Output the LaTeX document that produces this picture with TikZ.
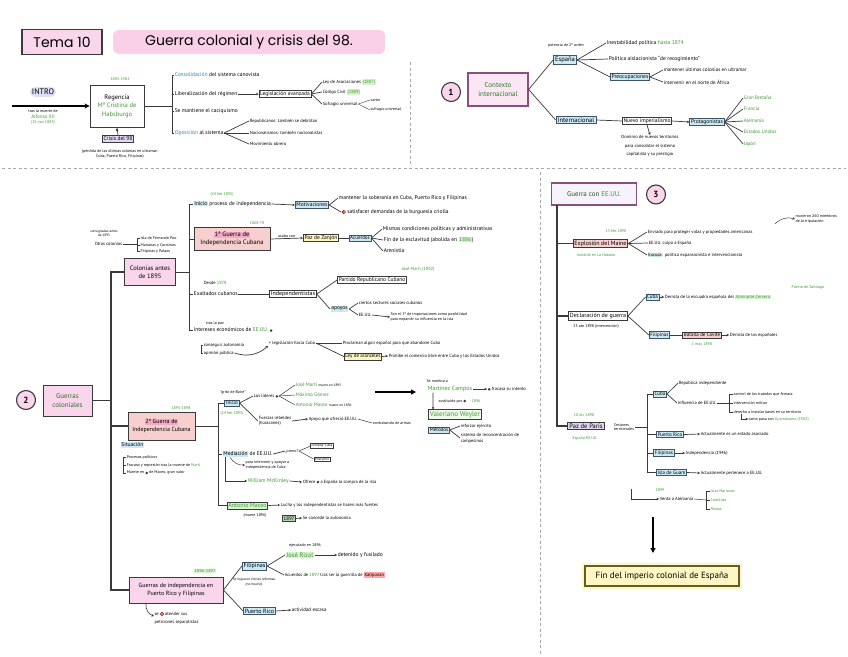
\documentclass[tikz,border=0pt]{standalone}
\usepackage{fontspec}
\setmainfont{PT Sans}
\newfontfamily\titlefont{Poppins}
\usetikzlibrary{arrows.meta,calc}
\definecolor{pinkf}{HTML}{F9D6EC}
\definecolor{pinkhl}{HTML}{FAD0E8}
\definecolor{pinkdk}{HTML}{F4A9C4}
\definecolor{bluef}{HTML}{CDE9F3}
\definecolor{redf}{HTML}{F7CFCF}
\definecolor{yellf}{HTML}{FFF6C4}
\definecolor{lavf}{HTML}{E4D7F6}
\definecolor{greenf}{HTML}{D9F2D0}
\definecolor{gtxt}{HTML}{3E9A35}
\definecolor{bluet}{HTML}{2F86B0}
\definecolor{edge}{HTML}{3A3A3A}
\definecolor{bedge}{HTML}{3D5568}
\definecolor{pinkedge}{HTML}{8A4F7A}
\definecolor{dashc}{HTML}{A8A8A8}
\newcommand\fsz[2]{\fontsize{#1}{#2}\selectfont}
\newcommand\grn[1]{\textcolor{gtxt}{#1}}
\newcommand\hlbox[2]{{\setlength{\fboxsep}{0.6pt}\colorbox{#1}{#2}}}
\newcommand\hlb[1]{\hlbox{bluef}{#1}}
\newcommand\hlg[1]{\hlbox{greenf}{\textcolor{gtxt}{#1}}}
\newcommand\hlp[1]{\hlbox{pinkdk}{#1}}
\newcommand\hlr[1]{\hlbox{red!35}{#1}}
\newcommand\ricon{\tikz[baseline=-0.5ex]{\draw[draw=red!60!black,fill=red!25,line width=0.4pt](0,0)circle(1.8pt);\fill[red!60!black](0,0)circle(0.7pt);}}
\newcommand\kicon{\tikz[baseline=-0.5ex]{\fill[edge](0,0)circle(1.4pt);}}
\tikzset{
 bx/.style={draw=edge,line width=0.9pt,inner sep=1.6pt,font=\fsz{6}{7},align=center},
 pinkbx/.style={bx,fill=pinkf},
 bluebx/.style={bx,fill=bluef,draw=bedge},
 redbx/.style={bx,fill=redf},
 yellbx/.style={bx,fill=yellf},
 lavbx/.style={bx,fill=lavf},
 greenbx/.style={bx,fill=greenf,text=gtxt},
 tx/.style={font=\fsz{5.5}{6.5},inner sep=0.6pt,anchor=west},
 tn/.style={font=\fsz{4}{4.8},inner sep=0.4pt,align=center},
 lnk/.style={draw=edge,line width=0.7pt},
 trunk/.style={draw=edge,line width=1.1pt},
 arr/.style={lnk,-{Stealth[length=2.5pt,width=2.6pt]}},
 bigarr/.style={draw=black,line width=1.6pt,-{Triangle[length=5pt,width=5pt]}},
 numc/.style={circle,draw=edge,line width=1.1pt,fill=pinkf,minimum size=19pt,inner sep=0pt,font=\bfseries\fsz{9}{10}},
 dsh/.style={draw=dashc,line width=0.8pt,dash pattern=on 3pt off 2.5pt},
}
\begin{document}
\begin{tikzpicture}[x=1pt,y=-1pt]
\fill[white] (0,0) rectangle (848,656);
\useasboundingbox (0,0) rectangle (848,656);
% ---------- title
\node[pinkbx,line width=1.2pt,minimum width=80pt,minimum height=25pt,font=\titlefont\fsz{14}{16}] (tema) at (62,42) {Tema 10};
\node[fill=pinkhl,rounded corners=6pt,minimum width=272pt,minimum height=24pt,font=\titlefont\fsz{14}{16},inner sep=2pt] (titulo) at (249,42) {Guerra colonial y crisis del 98.};
% ---------- dashed separators
\draw[dsh] (2,168) -- (846,168);
\draw[dsh] (410,62) -- (410,165);
\draw[dsh] (540,172) -- (540,654);
% ---------- INTRO
\node[fill=lavf!60!bluef,rounded corners=5pt,font=\fsz{8}{9},inner sep=2pt] (intro) at (43,92) {INTRO};
\coordinate (introS) at (12,106);
\node[bx,minimum width=54pt,minimum height=42pt,font=\fsz{6.5}{8.5}] (reg) at (117,106) {Regencia\\\grn{Mª Cristina de}\\\grn{Habsburgo}};
\draw[line width=1.3pt,-{Stealth[length=5pt,width=5pt]}] (introS) -- (reg.west);
\node[tn] (trasm) at (43,111) {tras la muerte de};
\node[tn,text=gtxt,font=\fsz{5}{6}] (alf) at (43,117) {Alfonso XII};
\node[tn,text=gtxt] (nov) at (43,123) {(25 nov 1885)};
\node[tn,text=gtxt] (regy) at (120,79) {1885-1902};
\node[lavbx,font=\fsz{5.5}{6.5},inner sep=1.2pt] (crisis) at (118,139) {Crisis del 98};
\draw[lnk] (reg.south) -- (crisis.north);
\fill[edge] ([yshift=-2.5pt]reg.south) circle (1.3pt);
\node[tn] (perd) at (120,154) {(pérdida de las últimas colonias en ultramar:\\Cuba, Puerto Rico, Filipinas)};
\coordinate (rj) at (172,106);
\draw[lnk] (reg.east) -- (rj);
\node[tx] (cons) at (174,75) {\textcolor{bluet}{Consolidación} del sistema canovista};
\node[tx] (libe) at (174,94) {Liberalización del régimen};
\node[tx] (caci) at (174,111) {Se mantiene el caciquismo};
\node[tx] (opos) at (174,133) {\textcolor{bluet}{Oposición} al sistema};
\draw[lnk] (cons.west) -- (cons.west -| rj) -- (opos.west -| rj) -- (opos.west);
\draw[lnk] (libe.west -| rj) -- (libe.west);
\draw[lnk] (caci.west -| rj) -- (caci.west);
\node[bx,font=\fsz{5.5}{6.5},inner sep=1.2pt,line width=0.7pt] (legi) at (285,94) {Legislación avanzada};
\draw[arr] (libe.east) -- (legi.west);
\node[tx,font=\fsz{4.5}{5}] (leyas) at (322,82) {Ley de Asociaciones \hlg{(1887)}};
\node[tx,font=\fsz{4.5}{5}] (codc) at (322,92) {Código Civil \hlg{(1889)}};
\node[tx,font=\fsz{4.5}{5}] (sufr) at (322,104) {Sufragio universal};
\draw[lnk] (legi.east) -- (leyas.west);
\draw[lnk] (legi.east) -- (codc.west);
\draw[lnk] (legi.east) -- (sufr.west);
\node[tn,anchor=west] (suf1) at (370,100) {varón};
\node[tn,anchor=west] (suf2) at (370,110) {sufragio universal};
\draw[lnk,line width=0.4pt] (sufr.east) -- (suf1.west);
\draw[lnk,line width=0.4pt] (sufr.east) -- (suf2.west);
\node[tx,font=\fsz{4.5}{5}] (op1) at (249,121) {Republicanos: también se debilitan};
\node[tx,font=\fsz{4.5}{5}] (op2) at (249,133) {Nacionalismos: también nacionalistas};
\node[tx,font=\fsz{4.5}{5}] (op3) at (249,144) {Movimiento obrero};
\draw[lnk] (opos.east) -- (op1.west);
\draw[lnk] (opos.east) -- (op2.west);
\draw[lnk] (opos.east) -- (op3.west);
% ---------- 1 contexto internacional
\node[numc] (n1) at (451,92) {1};
\node[bx,fill=pinkf!60,draw=pinkedge,line width=1.3pt,minimum width=60pt,minimum height=33pt,text=gtxt!75!black,font=\fsz{7}{8.5}] (ctx) at (498,89.5) {Contexto\\internacional};
\node[bluebx,font=\fsz{6.5}{7.5}] (esp) at (565,60) {España};
\node[tn] (pot) at (566,45) {potencia de 2º orden};
\node[bluebx,font=\fsz{6.5}{7.5}] (intl) at (576,120) {Internacional};
\draw[lnk] (ctx.east) -- (esp.west);
\draw[lnk] (ctx.east) -- (intl.west);
\node[tx] (ines) at (606,43) {Inestabilidad política \grn{hasta 1874}};
\node[tx] (poli) at (608,59) {Política aislacionista ``de recogimiento''};
\node[bluebx,font=\fsz{5.5}{6.5},inner sep=1.2pt] (preo) at (630,77) {Preocupaciones};
\draw[lnk] (esp.east) -- (ines.west);
\draw[lnk] (esp.east) -- (poli.west);
\draw[lnk] (esp.east) -- (preo.west);
\node[tx,font=\fsz{5}{6}] (mant) at (663,70) {mantener últimas colonias en ultramar};
\node[tx,font=\fsz{5}{6}] (inter) at (663,82) {intervenir en el norte de África};
\draw[lnk] (preo.east) -- (mant.west);
\draw[lnk] (preo.east) -- (inter.west);
\node[bx,font=\fsz{5.5}{6.5},inner sep=1.2pt,line width=0.6pt] (nimp) at (647,121) {Nuevo imperialismo};
\draw[lnk] (intl.east) -- (nimp.west);
\node[bluebx,font=\fsz{5.5}{6.5},inner sep=1.2pt] (prot) at (707,122) {Protagonistas};
\draw[arr] (nimp.east) -- (prot.west);
\node[tx,text=gtxt,font=\fsz{5}{6}] (gb) at (743,98) {Gran Bretaña};
\node[tx,text=gtxt,font=\fsz{5}{6}] (fr) at (743,109) {Francia};
\node[tx,text=gtxt,font=\fsz{5}{6}] (al) at (743,121) {Alemania};
\node[tx,text=gtxt,font=\fsz{5}{6}] (eu) at (743,132) {Estados Unidos};
\node[tx,text=gtxt,font=\fsz{5}{6}] (jp) at (743,144) {Japón};
\foreach \n in {gb,fr,al,eu,jp} \draw[lnk] (prot.east) -- (\n.west);
\node[tn,font=\fsz{4.5}{8.5}] (domi) at (650,146) {Dominio de nuevos territorios\\para consolidar el sistema\\capitalista y su prestigio};
\draw[arr] (nimp.south) -- (domi.north);
% ---------- 2 guerras coloniales
\node[numc] (n2) at (26,400) {2};
\node[pinkbx,minimum width=49pt,minimum height=31pt,text=gtxt!70!black,font=\fsz{7}{8.5}] (gcol) at (67.5,400.5) {Guerras\\coloniales};
\coordinate (tTop) at (111,272);
\coordinate (tBot) at (111,590);
\node[pinkbx,minimum width=51pt,minimum height=27pt,font=\fsz{6.5}{8}] (colo) at (150,272) {Colonias antes\\de 1895};
\node[pinkbx,minimum width=94pt,minimum height=26pt,font=\fsz{6}{8}] (gpf) at (176,590) {Guerras de independencia en\\Puerto Rico y Filipinas};
\node[redbx,minimum width=67pt,minimum height=28pt,font=\fsz{6}{8}] (g2) at (161.5,426) {\hlp{2ª Guerra de}\\Independencia Cubana};
\draw[trunk] (colo.west) -- (tTop) -- (tBot) -- (gpf.west);
\draw[trunk] (gcol.east) -- (gcol.east -| tTop);
\draw[trunk] (g2.west -| tTop) -- (g2.west);
% colonias detail
\node[tn,font=\fsz{3.5}{4}] (otr0) at (104,233) {consignadas antes\\de 1895};
\node[tx,font=\fsz{4.5}{5}] (otr) at (94,244) {Otras colonias};
\node[tn,anchor=west] (otr1) at (140,238) {Isla de Fernando Poo};
\node[tn,anchor=west] (otr2) at (140,245) {Marianas y Carolinas};
\node[tn,anchor=west] (otr3) at (140,251) {Filipinas y Palaos};
\coordinate (ob) at (137,244);
\draw[lnk,line width=0.5pt] (otr.east) -- (ob);
\draw[lnk,line width=0.5pt] (otr1.west) -- (otr1.west -| ob) -- (otr3.west -| ob) -- (otr3.west);
\draw[lnk,line width=0.5pt] (otr2.west -| ob) -- (otr2.west);
\coordinate (cv) at (189,272);
\draw[lnk] (colo.east) -- (cv);
\node[tx] (inic) at (193,204) {\hlb{Inicio} proceso de independencia};
\node[tn,text=gtxt] (inicd) at (222,195) {(24 feb 1895)};
\node[bluebx,font=\fsz{5.5}{6.5},inner sep=1.2pt] (moti) at (312,205) {Motivaciones};
\draw[arr] (inic.east) -- (moti.west);
\node[tx] (mts) at (338,198) {mantener la soberanía en Cuba, Puerto Rico y Filipinas};
\node[tx] (sat) at (341,212) {\ricon\ satisfacer demandas de la burguesía criolla};
\draw[lnk] (moti.east) -- (mts.west);
\draw[lnk] (moti.east) -- (sat.west);
\node[redbx,minimum width=76pt,minimum height=23pt,font=\fsz{6.5}{8}] (g1) at (232,239) {\hlp{1ª Guerra de}\\Independencia Cubana};
\node[tn,text=gtxt] (g1d) at (257,223) {1868-78};
\node[yellbx,font=\fsz{5.5}{6.5},inner sep=1.2pt] (paz) at (321,238) {Paz de Zanjón};
\draw[arr] (g1.east) -- node[tn,above=0.5pt] {acaba con} (paz.west);
\node[bluebx,font=\fsz{5}{6},inner sep=1.2pt] (acu) at (360,238) {Acuerdos};
\draw[lnk] (paz.east) -- (acu.west);
\node[tx] (mism) at (382,229) {Mismas condiciones políticas y administrativas};
\node[tx] (fines) at (383,240) {Fin de la esclavitud (abolida en \hlg{1886})};
\node[tx] (amni) at (383,251) {Amnistía};
\foreach \n in {mism,fines,amni} \draw[lnk] (acu.east) -- (\n.west);
\node[tx,font=\fsz{4.5}{5}] (desde) at (203,283) {Desde \grn{1878}};
\node[tx] (exal) at (193,294) {Exaltados cubanos};
\node[bx,font=\fsz{6}{7},inner sep=1.2pt] (indp) at (293,294) {Independentistas};
\draw[lnk] (exal.east) -- (indp.west);
\node[bx,font=\fsz{5.5}{6.5},inner sep=1.2pt] (prc) at (372,280) {Partido Republicano Cubano};
\node[tn,text=gtxt,font=\fsz{4.5}{5}] (marti) at (418,269) {José Martí (1892)};
\node[tx] (apoy) at (330,309) {\hlb{apoyos}};
\draw[lnk] (indp.east) -- (prc.west);
\draw[lnk] (indp.east) -- (apoy.west);
\node[tx,font=\fsz{4.5}{5}] (cier) at (358,303) {ciertos sectores sociales cubanos};
\node[tx,font=\fsz{4.5}{5}] (eeuu1) at (358,315) {EE.UU.};
\node[tn,anchor=west,align=left] (eeuu1t) at (390,317) {Son el 1º de importaciones como posibilidad\\para expandir su influencia en la isla};
\draw[arr] (eeuu1.east) -- (eeuu1t.west);
\draw[lnk] (apoy.east) -- (cier.west);
\draw[lnk] (apoy.east) -- (eeuu1.west);
\node[tx] (intr) at (193,330) {Intereses económicos de \grn{EE.UU.} \kicon};
\node[tn] (intra) at (215,323) {tras la paz};
\draw[lnk] (inic.west) -- (inic.west -| cv) -- (intr.west -| cv) -- (intr.west);
\draw[lnk] (g1.west -| cv) -- (g1.west);
\draw[lnk] (exal.west -| cv) -- (exal.west);
\node[tx,font=\fsz{4.5}{5}] (cons2) at (203,345) {conseguir autonomía};
\node[tx,font=\fsz{4.5}{5}] (opin) at (203,353) {opinión pública};
\draw[lnk,line width=0.5pt] (cons2.west) -- ++(-2,0) |- (opin.west);
\node[tx,font=\fsz{4.5}{5}] (leyc) at (268,343) {+ legislación hacia Cuba};
\draw[arr] (opin.east) to[bend right=30] (leyc.south west);
\node[tx,font=\fsz{4.5}{5}] (procl) at (342,343) {Proclaman algún español para que abandone Cuba};
\node[yellbx,font=\fsz{5}{6},inner sep=1.2pt] (leyam) at (363,356.5) {Ley de aranceles};
\node[tx,font=\fsz{4.5}{5}] (prohi) at (388,356) {Prohíbe el comercio libre entre Cuba y los Estados Unidos};
\draw[lnk] (leyc.east) -- (procl.west);
\draw[lnk] (leyc.east) -- (leyam.west);
\draw[arr] (leyam.east) -- (prohi.west);
% 2a guerra
\node[tn,text=gtxt] (g2d) at (181,408) {1895-1898};
\node[tx] (situ) at (120,445) {\hlb{Situación}};
\node[tx,font=\fsz{4}{5}] (sit1) at (126,457) {Procesos políticos};
\node[tx,font=\fsz{4}{5}] (sit2) at (126,465) {Fracaso y represión tras la muerte de \grn{Martí}};
\node[tx,font=\fsz{4}{5}] (sit3) at (126,473) {Muerte en \kicon\ de Maceo, gran valor};
\draw[lnk,line width=0.5pt] (sit1.west) -- ++(-3,0) |- (sit3.west);
\draw[lnk,line width=0.5pt] (sit2.west) -- ++(-3,0);
\coordinate (gv) at (218,426);
\draw[lnk] (g2.east) -- (gv);
\node[bluebx,font=\fsz{5}{6},inner sep=1.2pt] (ini2) at (232,403) {Inicio};
\node[tn] (baire) at (233,392) {``grito de Baire''};
\node[tn,text=gtxt] (ini2d) at (232,414) {(24 feb 1895)};
\node[tx,font=\fsz{4.5}{5}] (lider) at (253,396) {Los líderes \kicon};
\node[tx,text=gtxt,font=\fsz{5}{6}] (jmarti) at (295,385) {José Martí \textcolor{black}{\fsz{3.5}{4}muere en 1895}};
\node[tx,text=gtxt,font=\fsz{5}{6}] (mgomez) at (295,395) {Máximo Gómez};
\node[tx,text=gtxt,font=\fsz{5}{6}] (amaceo) at (295,405) {Antonio Maceo \textcolor{black}{\fsz{3.5}{4}muere en 1896}};
\foreach \n in {jmarti,mgomez,amaceo} \draw[lnk,line width=0.5pt] (lider.east) -- (\n.west);
\node[tx,font=\fsz{4.5}{5.5},align=left] (fuer) at (258,421) {Fuerzas rebeldes\\(huracanes)};
\node[tx,font=\fsz{4.5}{5}] (apoyo) at (308,419) {Apoyo que ofreció EE.UU.};
\node[tx,font=\fsz{4}{5}] (apoyo2) at (372,423) {contrabando de armas};
\draw[arr] (fuer.east) -- (apoyo.west);
\draw[lnk,line width=0.5pt] (apoyo.east) -- (apoyo2.west);
\draw[lnk] (ini2.east) -- (lider.west);
\draw[lnk] (ini2.east) -- (fuer.west);
\coordinate (bigS) at (375,392);
\coordinate (bigE) at (416,392);
\draw[bigarr] (bigS) -- (bigE);
\node[tn,anchor=west] (senom) at (426,381) {Se nombra a};
\node[tx,text=gtxt,font=\fsz{6}{7}] (mcam) at (427,389) {Martínez Campos};
\node[tx,font=\fsz{4.5}{5}] (fracaso) at (487,389) {\kicon\ fracasa su intento};
\draw[arr] (mcam.east) -- (fracaso.west);
\node[bx,font=\fsz{7}{8},text=gtxt,inner sep=1.5pt,fill=greenf!40,line width=0.8pt] (weyl) at (455,414.5) {Valeriano Weyler};
\draw[arr] ([xshift=6pt]mcam.south west) -- ([xshift=5pt]weyl.north west);
\node[tn,anchor=west] (sust) at (438,401) {sustituido por \kicon};
\node[tn,text=gtxt] (sustd) at (476,401) {1896};
\node[bluebx,font=\fsz{5}{6},inner sep=1.2pt] (meto) at (439,430) {Métodos};
\node[tx,font=\fsz{4.5}{5}] (refo) at (460,426) {reforzar ejército};
\node[tx,font=\fsz{4.5}{6},align=left] (reco) at (460,438) {sistema de reconcentración de\\campesinos};
\draw[lnk] (meto.east) -- (refo.west);
\draw[lnk] (meto.east) -- (reco.west);
\node[tx] (medi) at (222,454) {\hlb{Mediación} de EE.UU.};
\node[tn] (como) at (292,451) {¿cómo?};
\draw[lnk] (medi.east) -- (como.west);
\node[bx,font=\fsz{3.5}{4},inner sep=1pt,line width=0.4pt] (cm1) at (322,446) {comprar Cuba};
\node[bx,font=\fsz{3.5}{4},inner sep=1pt,line width=0.4pt] (cm2) at (322,459) {intervenir};
\draw[lnk,line width=0.5pt] (como.east) -- (cm1.west);
\draw[lnk,line width=0.5pt] (como.east) -- (cm2.west);
\node[tn,anchor=west,align=left] (medt) at (245,465) {para intervenir y apoyar a\\independencia de Cuba};
\draw[arr,line width=0.5pt] ([xshift=8pt]medi.south west) to[bend right=30] (medt.west);
\node[tx,text=gtxt] (mck) at (247,481) {William McKinley};
\draw[arr] ([xshift=3pt]medi.south west) |- (mck.west);
\node[tx,font=\fsz{4.5}{5}] (comp) at (302,482) {Ofrece \kicon\ a España la compra de la isla};
\draw[arr] (mck.east) -- (comp.west);
\node[greenbx,font=\fsz{6}{7},inner sep=1.3pt] (amb) at (247.5,505.5) {Antonio Maceo};
\node[tn] (ambd) at (255,516) {(muere 1896)};
\node[tx,font=\fsz{4.5}{5}] (luch) at (280,505) {Lucha y los independentistas se hacen más fuertes};
\node[bx,font=\fsz{5}{6},inner sep=1pt,fill=green!30!gray!45,line width=0.6pt] (a97) at (289,518.5) {1897};
\node[tx,font=\fsz{4.5}{5}] (auto) at (302,518) {Se concede la autonomía};
\draw[arr] (amb.east) -- (luch.west);
\draw[arr] (a97.east) -- (auto.west);
\draw[lnk] (ini2.west) -- (ini2.west -| gv) -- (amb.west -| gv) -- (amb.west);
\draw[lnk] (medi.west -| gv) -- (medi.west);
% PR y Filipinas
\node[tn,text=gtxt,fill=greenf,font=\fsz{4.5}{5}] (gpfd) at (205,571) {1896-1897};
\node[tn,anchor=west,align=left,font=\fsz{4.5}{8}] (gpft) at (154,618) {se \ricon\ atender sus\\peticiones separatistas};
\draw[arr,line width=0.6pt] ([xshift=-30pt]gpf.south) to[bend right=40] ([yshift=2pt]gpft.west);
\node[bluebx,font=\fsz{6}{7},inner sep=1.3pt] (fili) at (254.5,566) {Filipinas};
\node[tn,font=\fsz{3.5}{4.5}] (filit) at (254,582) {Se lograron ciertas reformas\\(no mucho)};
\node[tx,text=gtxt,font=\fsz{6.5}{7.5}] (rizal) at (285,555) {\hlg{José Rizal}};
\node[tn] (rizalt) at (305,545) {ejecutado en 1896};
\node[tx] (dete) at (337,555) {detenido y fusilado};
\draw[arr] (rizal.east) -- (dete.west);
\node[tx,font=\fsz{4.5}{5}] (suce) at (284,575) {Acuerdos de \grn{1897} tras ser la guerrilla de \hlr{Katipunan}};
\draw[lnk] (fili.east) -- (rizal.west);
\draw[lnk] (fili.east) -- (suce.west);
\node[bluebx,font=\fsz{6}{7},inner sep=1.3pt] (puer) at (259.5,611) {Puerto Rico};
\node[tx,font=\fsz{5}{6}] (acti) at (291,610) {actividad escasa};
\draw[arr] (puer.east) -- (acti.west);
\draw[lnk] (gpf.east) -- (fili.west);
\draw[lnk] (gpf.east) -- (puer.west);
% ---------- 3 guerra con EEUU
\node[bx,draw=pinkedge,line width=1.3pt,fill=lavf!30,minimum width=85pt,minimum height=22pt,font=\fsz{7}{8},text=gtxt!55!black] (gee) at (594,194) {Guerra con \grn{EE.UU.}};
\node[numc] (n3) at (656,194.5) {3};
\node[redbx,font=\fsz{6}{7},inner sep=1.3pt] (maine) at (600.5,243.5) {Explosión del Maine};
\node[bx,font=\fsz{6}{7},inner sep=1.3pt] (decl) at (598,316) {Declaración de guerra};
\node[lavbx,font=\fsz{6.5}{7.5},inner sep=1.5pt] (paris) at (586,426) {Paz de París};
\coordinate (rt) at (557,205);
\draw[trunk] (rt) -- (paris.west -| rt) -- (paris.west);
\draw[trunk] (maine.west -| rt) -- (maine.west);
\draw[trunk] (decl.west -| rt) -- (decl.west);
\node[tn,text=gtxt] (mained) at (616,231) {15 feb 1898};
\node[tn,text=gtxt] (mainet) at (596,255) {hundido en La Habana};
\node[tx,font=\fsz{4.5}{5}] (env) at (647,232) {Enviado para proteger vidas y propiedades americanas};
\node[tx,font=\fsz{4.5}{5}] (culpa) at (648,243) {EE.UU. culpa a España};
\node[tx,font=\fsz{4.5}{5}] (excu) at (647,255) {\hlb{Excusa}: política expansionista e intervencionista};
\foreach \n in {env,culpa,excu} \draw[lnk] (maine.east) -- (\n.west);
\node[tn,anchor=west,align=left] (muri) at (795,219) {murieron 260 miembros\\de la tripulación};
\draw[arr,line width=0.5pt] ([xshift=-20pt]muri.south west) to[bend left=30] (muri.west);
\node[tn] (decld) at (596,326) {25 abr 1898 (intervención)};
\node[bluebx,font=\fsz{5}{6},inner sep=1.2pt] (cuba1) at (652.5,297) {Cuba};
\node[tx,font=\fsz{4.5}{5}] (derr) at (664,297) {Derrota de la escuadra española del \hlg{Almirante Cervera}};
\draw[arr] (cuba1.east) -- (derr.west);
\node[tn,text=gtxt] (santi) at (808,287) {Puerto de Santiago};
\node[bluebx,font=\fsz{5}{6},inner sep=1.2pt] (fil1) at (659.5,335) {Filipinas};
\node[redbx,font=\fsz{5}{6},inner sep=1.2pt] (cavi) at (702,335) {Batalla de Cavite};
\node[tn,text=gtxt] (cavid) at (702,344) {1 may 1898};
\node[tx,font=\fsz{4.5}{5}] (derr2) at (729,335) {Derrota de los españoles};
\draw[lnk] (decl.east) -- (cuba1.west);
\draw[lnk] (decl.east) -- (fil1.west);
\draw[lnk] (fil1.east) -- (cavi.west);
\draw[arr] (cavi.east) -- (derr2.west);
\node[tn,text=gtxt] (parisd) at (584,415) {10 dic 1898};
\node[tn,text=gtxt] (parist) at (585,438) {España-EE.UU.};
\node[tn,align=left] (cesi) at (624,427) {Cesiones\\territoriales};
\coordinate (pv) at (647,427);
\draw[lnk] (cesi.east) -- (pv);
\node[bluebx,font=\fsz{5}{6},inner sep=1.2pt] (cuba2) at (660,394) {Cuba};
\node[bluebx,font=\fsz{5}{6},inner sep=1.2pt] (pr2) at (670,434.5) {Puerto Rico};
\node[bluebx,font=\fsz{5}{6},inner sep=1.2pt] (fil2) at (664,453) {Filipinas};
\node[bluebx,font=\fsz{5}{6},inner sep=1.2pt] (guam) at (671.5,472.5) {Isla de Guam};
\draw[lnk] (cuba2.west) -- (cuba2.west -| pv) -- (guam.west -| pv) -- (guam.west);
\draw[lnk] (pr2.west -| pv) -- (pr2.west);
\draw[lnk] (fil2.west -| pv) -- (fil2.west);
\node[tx,font=\fsz{4.5}{5}] (repu) at (678,383) {República independiente};
\node[tx,font=\fsz{4.5}{5}] (infl) at (677,403) {Influencia de EE.UU.};
\draw[lnk] (cuba2.east) -- (repu.west);
\draw[lnk] (cuba2.east) -- (infl.west);
\node[tn,anchor=west] (pl1) at (733,394) {control de los tratados que firmara};
\node[tn,anchor=west] (pl2) at (733,403) {intervención militar};
\node[tn,anchor=west] (pl3) at (733,412) {derecho a instalar bases en su territorio};
\node[tn,anchor=west] (pl4) at (748,419) {como pasa con \grn{Guantánamo (1903)}};
\coordinate (plv) at (729,403);
\draw[lnk,line width=0.5pt] (infl.east) -- (plv);
\draw[lnk,line width=0.5pt] (pl1.west) -- (pl1.west -| plv) -- (pl3.west -| plv) -- (pl3.west);
\draw[lnk,line width=0.5pt] (pl2.west -| plv) -- (pl2.west);
\draw[arr,line width=0.4pt] ([xshift=8pt]pl3.south west) |- (pl4.west);
\node[tx,font=\fsz{4.5}{5}] (pr2t) at (700,434) {Actualmente es un estado asociado};
\node[tx,font=\fsz{4.5}{5}] (fil2t) at (685,453) {Independencia (1946)};
\node[tx,font=\fsz{4.5}{5}] (guamt) at (700,473) {Actualmente pertenece a EE.UU.};
\draw[arr] (pr2.east) -- (pr2t.west);
\draw[arr] (fil2.east) -- (fil2t.west);
\draw[arr] (guam.east) -- (guamt.west);
\node[tn,text=gtxt] (d99) at (660,490) {1899};
\node[tx,font=\fsz{4.5}{5}] (venta) at (659,499) {Venta a Alemania};
\coordinate (hook) at (631,489);
\draw[arr] (hook) |- (venta.west);
\node[tn,anchor=west,text=gtxt] (mar) at (710,491) {islas Marianas};
\node[tn,anchor=west,text=gtxt] (car) at (710,500) {Carolinas};
\node[tn,anchor=west,text=gtxt] (pal) at (710,509) {Palaos};
\coordinate (mv) at (706,500);
\draw[lnk,line width=0.5pt] (venta.east) -- (mv);
\draw[lnk,line width=0.5pt] (mar.west) -- (mar.west -| mv) -- (pal.west -| mv) -- (pal.west);
\draw[lnk,line width=0.5pt] (car.west -| mv) -- (car.west);
\coordinate (fa) at (653,517);
\coordinate (fe) at (653,553);
\draw[bigarr] (fa) -- (fe);
\node[yellbx,draw=olive!60!black,line width=1.2pt,minimum width=154pt,minimum height=20pt,font=\fsz{9}{10},preaction={draw=yellf,line width=6pt}] (fin) at (662,576) {Fin del imperio colonial de España};
\end{tikzpicture}
\end{document}
